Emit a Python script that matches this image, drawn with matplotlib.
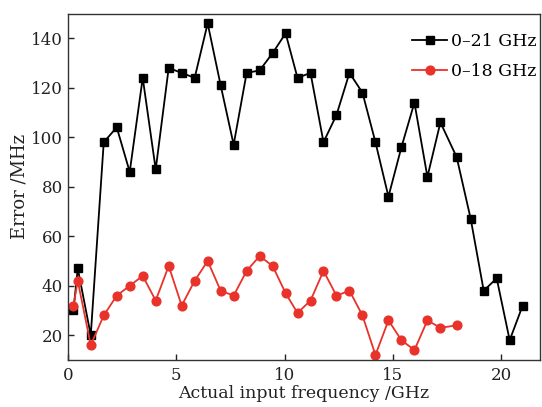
import matplotlib
matplotlib.use("Agg")
import matplotlib.pyplot as plt

# frequency points (GHz) and measured error (MHz)
freq_21 = [0.25, 0.45, 1.05, 1.65, 2.25, 2.85, 3.45, 4.05, 4.65, 5.25, 5.85, 6.45,
           7.05, 7.65, 8.25, 8.85, 9.45, 10.05, 10.6, 11.2, 11.8, 12.4, 13.0, 13.6,
           14.2, 14.8, 15.4, 16.0, 16.6, 17.2, 17.95, 18.6, 19.2, 19.8, 20.4, 21.0]
err_21 = [30, 47, 20, 98, 104, 86, 124, 87, 128, 126, 124, 146,
          121, 97, 126, 127, 134, 142, 124, 126, 98, 109, 126, 118,
          98, 76, 96, 114, 84, 106, 92, 67, 38, 43, 18, 32]

freq_18 = [0.25, 0.45, 1.05, 1.65, 2.25, 2.85, 3.45, 4.05, 4.65, 5.25, 5.85, 6.45,
           7.05, 7.65, 8.25, 8.85, 9.45, 10.05, 10.6, 11.2, 11.8, 12.4, 13.0, 13.6,
           14.2, 14.8, 15.4, 16.0, 16.6, 17.2, 17.95]
err_18 = [32, 42, 16, 28, 36, 40, 44, 34, 48, 32, 42, 50,
          38, 36, 46, 52, 48, 37, 29, 34, 46, 36, 38, 28,
          12, 26, 18, 14, 26, 23, 24]

plt.rcParams["font.family"] = ["DejaVu Serif"]
plt.rcParams["mathtext.fontset"] = "dejavuserif"

fig = plt.figure(figsize=(5.42, 4.07), dpi=100)
ax = fig.add_axes([0.1255, 0.1155, 0.8708, 0.8513])

ax.plot(freq_21, err_21, color="black", marker="s", markersize=5.5, linewidth=1.3,
        label="0\u201321 GHz")
ax.plot(freq_18, err_18, color="#e8322a", marker="o", markersize=6.3, linewidth=1.3,
        label="0\u201318 GHz")

ax.set_xlim(0, 21.8)
ax.set_ylim(10, 150)
ax.set_xticks([0, 5, 10, 15, 20])
ax.set_yticks([20, 40, 60, 80, 100, 120, 140])
ax.tick_params(direction="in", length=4, width=1, labelsize=12, colors="#222222")
ax.tick_params(axis="x", pad=5)
for s in ax.spines.values():
    s.set_linewidth(1.0)
    s.set_color("#333333")

ax.set_xlabel("Actual input frequency /GHz", fontsize=12.5, color="#222222", labelpad=1)
ax.set_ylabel("Error /MHz", fontsize=13, color="#222222", labelpad=2)

ax.legend(loc="upper right", bbox_to_anchor=(1.01, 0.97), frameon=False, fontsize=12.5,
          handlelength=2.0, handletextpad=0.2, borderaxespad=0.1, labelspacing=0.75)

fig.savefig("out.png", dpi=100)
